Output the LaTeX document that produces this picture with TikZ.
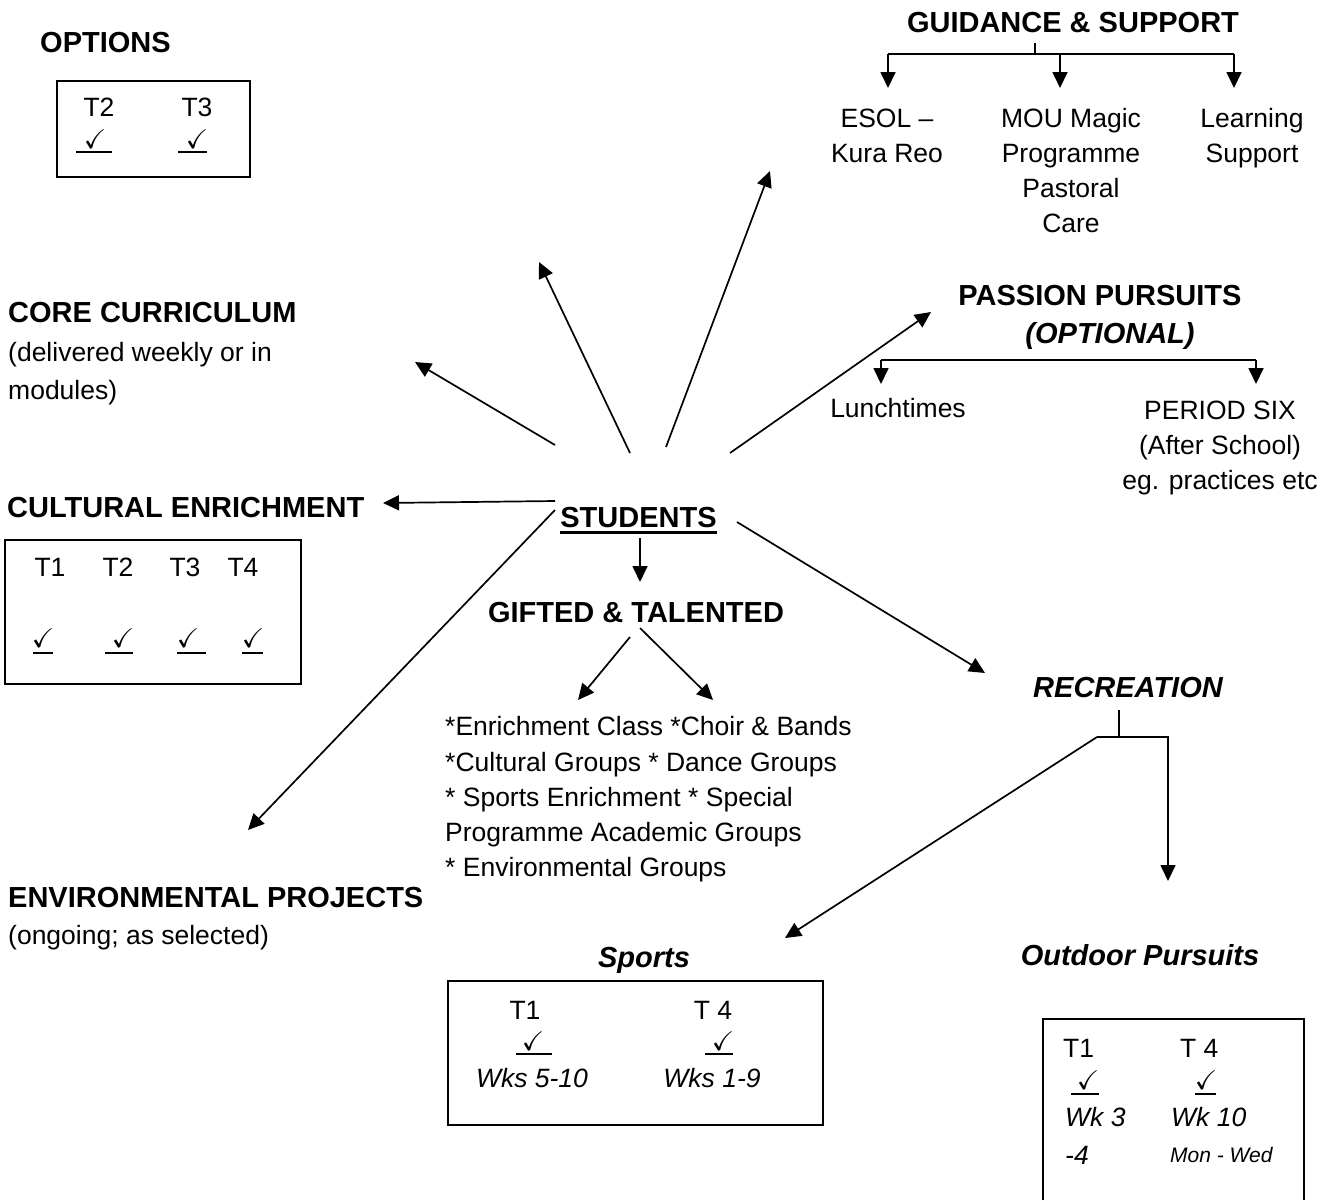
\documentclass[tikz,border=0pt]{standalone}
\usepackage{amssymb}
\usepackage{fontspec}
\setmainfont{Liberation Sans}
\usetikzlibrary{arrows.meta}
\tikzset{
  body/.style={font=\fontsize{26.5}{35}\selectfont, inner sep=0pt},
  bodyit/.style={font=\fontsize{26.5}{35}\selectfont\itshape, inner sep=0pt},
  small/.style={font=\fontsize{21}{25}\selectfont\itshape, inner sep=0pt},
  head/.style={font=\fontsize{29}{38}\selectfont\bfseries, inner sep=0pt},
  headit/.style={font=\fontsize{29}{38}\selectfont\bfseries\itshape, inner sep=0pt},
  tick/.style={font=\fontsize{27}{27}\selectfont, inner sep=0pt},
  uline/.style={line width=1.8pt},
  ln/.style={line width=1.7pt},
  arr/.style={line width=1.7pt, -{Triangle[length=16pt,width=15pt]}},
  boxed/.style={draw, line width=2pt, inner sep=0pt},
}
\newcommand{\tickat}[6]{%
  \node[tick] (#1) at (#2,#3) {$\checkmark$};
  \draw[uline] (#4,#6) -- (#5,#6);
}
\begin{document}
\begin{tikzpicture}[x=1pt,y=-1pt]
\useasboundingbox[fill=white] (0,0) rectangle (1327,1200);

% ---------- OPTIONS ----------
\node[head, anchor=base west] (opt) at (40,52.4) {OPTIONS};
\node[boxed, minimum width=193pt, minimum height=96pt, anchor=north west] (optbox) at (56,80) {};
\node[body, anchor=base] (optT2) at (99,116.5) {T2};
\node[body, anchor=base] (optT3) at (197,116.5) {T3};
\tickat{optc2}{95}{139}{76}{112}{152}
\tickat{optc3}{197}{139}{178}{207}{152}

% ---------- GUIDANCE & SUPPORT ----------
\node[head, anchor=base] (gs) at (1073,32.4) {GUIDANCE \& SUPPORT};
\coordinate (gsA) at (1035,43);
\coordinate (gsB) at (1035,54);
\coordinate (gsL) at (888,54);
\coordinate (gsM) at (1060,54);
\coordinate (gsR) at (1234,54);
\coordinate (gsLt) at (888,88);
\coordinate (gsMt) at (1060,88);
\coordinate (gsRt) at (1234,88);
\draw[ln] (gsA) -- (gsB);
\draw[ln] (gsL) -- (gsR);
\draw[arr] (gsL) -- (gsLt);
\draw[arr] (gsM) -- (gsMt);
\draw[arr] (gsR) -- (gsRt);
\node[body, align=center, anchor=north] (esol) at (887,108.5) {ESOL –\\Kura Reo};
\node[body, align=center, anchor=north] (mou) at (1071,108.5) {MOU Magic\\Programme\\Pastoral\\Care};
\node[body, align=center, anchor=north] (learn) at (1252,108.5) {Learning\\Support};

% ---------- CORE CURRICULUM ----------
\node[head, anchor=base west] (core) at (8,322.4) {CORE CURRICULUM};
\node[font=\fontsize{26.5}{38}\selectfont, inner sep=0pt, align=left, anchor=north west] (coresub) at (8,342.5) {(delivered weekly or in\\modules)};

% ---------- PASSION PURSUITS ----------
\node[head, anchor=base] (pp) at (1100,305.4) {PASSION PURSUITS};
\node[headit, anchor=base] (ppopt) at (1110,343.4) {(OPTIONAL)};
\coordinate (ppL) at (881,360);
\coordinate (ppR) at (1256,360);
\coordinate (ppLt) at (881,384);
\coordinate (ppRt) at (1256,384);
\draw[ln] (ppL) -- (ppR);
\draw[arr] (ppL) -- (ppLt);
\draw[arr] (ppR) -- (ppRt);
\node[body, anchor=base] (lunch) at (898,417.5) {Lunchtimes};
\node[body, align=center, anchor=north] (p6) at (1220,400.5) {PERIOD SIX\\(After School)\\eg. practices etc};

% ---------- CULTURAL ENRICHMENT ----------
\node[head, anchor=base west] (ce) at (7,517.4) {CULTURAL ENRICHMENT};
\node[boxed, minimum width=296pt, minimum height=144pt, anchor=north west] (cebox) at (4,539) {};
\node[body, anchor=base] (ceT1) at (50,576.5) {T1};
\node[body, anchor=base] (ceT2) at (118,576.5) {T2};
\node[body, anchor=base] (ceT3) at (185,576.5) {T3};
\node[body, anchor=base] (ceT4) at (243,576.5) {T4};
\tickat{cec1}{43}{638}{33}{53}{653}
\tickat{cec2}{123}{638}{105}{133}{653}
\tickat{cec3}{188}{638}{177}{206}{653}
\tickat{cec4}{253}{638}{242}{263}{653}

% ---------- STUDENTS ----------
\node[head, anchor=base] (stu) at (638.5,527.4) {STUDENTS};
\draw[line width=2.3pt] ([yshift=-5pt]stu.base west) -- ([yshift=-5pt]stu.base east);

\coordinate (sCore) at (555,445);  \coordinate (tCore) at (415,362);
\coordinate (sUL) at (630,453);    \coordinate (tUL) at (539,262);
\coordinate (sUR) at (666,447);    \coordinate (tUR) at (770,171);
\coordinate (sPP) at (730,453);    \coordinate (tPP) at (931,312);
\coordinate (sCE) at (555,501);    \coordinate (tCE) at (383,503);
\coordinate (sEP) at (555,510);    \coordinate (tEP) at (248,830);
\coordinate (sRec) at (737,522);   \coordinate (tRec) at (985,673);
\coordinate (sGT) at (640,538);    \coordinate (tGT) at (640,582);
\draw[arr] (sCore) -- (tCore);
\draw[arr] (sUL) -- (tUL);
\draw[arr] (sUR) -- (tUR);
\draw[arr] (sPP) -- (tPP);
\draw[arr] (sCE) -- (tCE);
\draw[arr] (sEP) -- (tEP);
\draw[arr] (sRec) -- (tRec);
\draw[arr] (sGT) -- (tGT);

% ---------- GIFTED & TALENTED ----------
\node[head, anchor=base] (gt) at (636,622.4) {GIFTED \& TALENTED};
\coordinate (sG1) at (630,637);  \coordinate (tG1) at (578,700);
\coordinate (sG2) at (640,628);  \coordinate (tG2) at (713,700);
\draw[arr] (sG1) -- (tG1);
\draw[arr] (sG2) -- (tG2);
\node[font=\fontsize{26.5}{35.25}\selectfont, inner sep=0pt, align=left, anchor=north west] (gtlist) at (445,716.5)
  {*Enrichment Class *Choir \& Bands\\*Cultural Groups * Dance Groups\\* Sports Enrichment * Special\\Programme Academic Groups\\* Environmental Groups};

% ---------- RECREATION ----------
\node[headit, anchor=base] (rec) at (1128,697.4) {RECREATION};
\coordinate (recA) at (1119,710);
\coordinate (recJ) at (1119,737);
\coordinate (recL) at (1097,737);
\coordinate (recR) at (1168,737);
\coordinate (recRt) at (1168,881);
\coordinate (recLt) at (785,938);
\draw[ln] (recA) -- (recJ);
\draw[arr] (recL) -- (recR) -- (recRt);
\draw[arr] (recL) -- (recLt);

% ---------- ENVIRONMENTAL PROJECTS ----------
\node[head, anchor=base west] (env) at (8,907.4) {ENVIRONMENTAL PROJECTS};
\node[body, anchor=base west] (envsub) at (8,944.5) {(ongoing; as selected)};

% ---------- Sports ----------
\node[headit, anchor=base] (sp) at (644,967.4) {Sports};
\node[boxed, minimum width=375pt, minimum height=144pt, anchor=north west] (spbox) at (447,980) {};
\node[body, anchor=base] (spT1) at (525,1019.5) {T1};
\node[body, anchor=base] (spT4) at (713,1019.5) {T 4};
\tickat{spc1}{533}{1041}{516}{552}{1054}
\tickat{spc4}{723}{1041}{705}{733}{1054}
\node[bodyit, anchor=base] (spW1) at (532,1087.5) {Wks 5-10};
\node[bodyit, anchor=base] (spW4) at (712,1087.5) {Wks 1-9};

% ---------- Outdoor Pursuits ----------
\node[headit, anchor=base] (op) at (1140,965.4) {Outdoor Pursuits};
\coordinate (opBL) at (1043,1200);
\coordinate (opTR) at (1304,1019);
\coordinate (opBR) at (1304,1200);
\draw[line width=2pt] (opBL) |- (opTR) -- (opBR);
\node[body, anchor=base west] (opT1) at (1063,1057.5) {T1};
\node[body, anchor=base west] (opT4) at (1180,1057.5) {T 4};
\tickat{opc1}{1088}{1080}{1071}{1099}{1094}
\tickat{opc4}{1206}{1080}{1195}{1216}{1094}
\node[bodyit, anchor=base west] (opW1) at (1065,1126.5) {Wk 3};
\node[bodyit, anchor=base west] (opW4) at (1171,1126.5) {Wk 10};
\node[bodyit, anchor=base west] (opW1b) at (1065,1164.5) {-4};
\node[small, anchor=base west] (opW4b) at (1170,1162.5) {Mon - Wed};
\end{tikzpicture}
\end{document}
